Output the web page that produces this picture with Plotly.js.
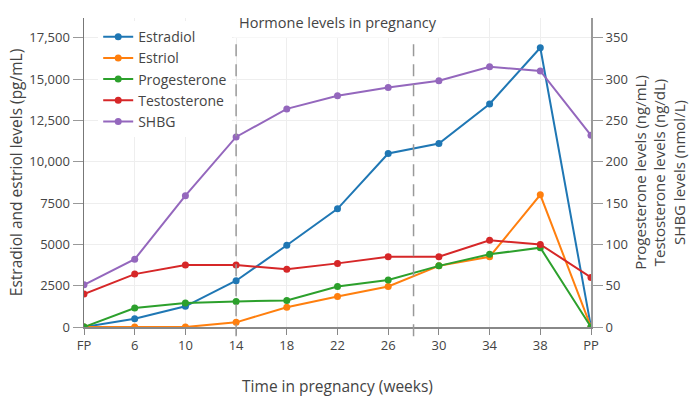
<!DOCTYPE html>
<html>
<head>
<meta charset="utf-8">
<script src="https://cdn.plot.ly/plotly-3.0.1.min.js"></script>
<style>html,body{margin:0;padding:0;background:#fff;}#chart{width:700px;height:408px;}</style>
</head>
<body>
<div id="chart"></div>
<script>
// Time points (weeks); FP = first point (pre-pregnancy), PP = postpartum
const weeks = [2, 6, 10, 14, 18, 22, 26, 30, 34, 38, 42];
const weekLabels = ['FP', '6', '10', '14', '18', '22', '26', '30', '34', '38', 'PP'];
const trimesterBoundaries = [14, 28];

// Left axis (pg/mL)
const estradiol = [0, 500, 1250, 2800, 4950, 7150, 10500, 11100, 13500, 16900, 0];
const estriol = [0, 0, 0, 280, 1200, 1850, 2450, 3700, 4250, 8000, 0];

// Right axis
const progesterone = [0, 23, 29, 31, 32, 49, 57, 74, 88, 96, 0];   // ng/mL
const testosterone = [40, 64, 75, 75, 70, 77, 85, 85, 105, 100, 60]; // ng/dL
const shbg = [51, 82, 159, 230, 264, 280, 290, 298, 315, 310, 232];  // nmol/L

const colors = ['#1f77b4', '#ff7f0e', '#2ca02c', '#d62728', '#9467bd'];

function tr(name, y, color, axis) {
  return {
    x: weeks, y: y, name: name, type: 'scatter', mode: 'lines+markers',
    yaxis: axis, line: {color: color, width: 2}, marker: {color: color, size: 7}
  };
}

const data = [
  tr('Estradiol', estradiol, colors[0], 'y'),
  tr('Estriol', estriol, colors[1], 'y'),
  tr('Progesterone', progesterone, colors[2], 'y2'),
  tr('Testosterone', testosterone, colors[3], 'y2'),
  tr('SHBG', shbg, colors[4], 'y2')
];

const shapes = trimesterBoundaries.map(w => ({
  type: 'line', xref: 'x', yref: 'paper', x0: w, x1: w, y0: -0.03, y1: 1,
  line: {color: '#999', width: 1.5, dash: '12px,8px'}, layer: 'above'
}));

const layout = {
  width: 700, height: 408,
  margin: {l: 84, r: 109, t: 18, b: 81},
  font: {family: '"Open Sans", sans-serif', color: '#444', size: 13},
  paper_bgcolor: '#fff', plot_bgcolor: '#fff',
  showlegend: true,
  legend: {x: 0.028, y: 0.99, xanchor: 'left', yanchor: 'top', bgcolor: '#fff',
           font: {size: 14}},
  xaxis: {
    range: [2, 42], tickmode: 'array', tickvals: weeks, ticktext: weekLabels,
    showgrid: true, gridcolor: '#eee', zeroline: false,
    showline: true, linecolor: '#888', linewidth: 1.5,
    ticks: 'outside', ticklen: 6, tickcolor: '#888',
    title: {text: 'Time in pregnancy (weeks)', font: {size: 15.5}, standoff: 28}
  },
  yaxis: {
    range: [0, 18700], dtick: 2500, tick0: 0, exponentformat: 'none',
    showgrid: true, gridcolor: '#eee', zeroline: false,
    showline: true, linecolor: '#777', linewidth: 1.5,
    ticks: 'outside', ticklen: 10, tickcolor: '#999',
    title: {text: 'Estradiol and estriol levels (pg/mL)', font: {size: 15.5}}
  },
  yaxis2: {
    range: [0, 374], dtick: 50, tick0: 0, overlaying: 'y', side: 'right',
    showgrid: false, zeroline: false,
    showline: true, linecolor: '#999', linewidth: 2,
    ticks: 'outside', ticklen: 10, tickcolor: '#999',
    title: {text: 'Progesterone levels (ng/mL)<br>Testosterone levels (ng/dL)<br>SHBG levels (nmol/L)', font: {size: 15}}
  },
  shapes: shapes,
  annotations: [{
    text: 'Hormone levels in pregnancy', xref: 'paper', yref: 'paper',
    x: 0.5, y: 1, xanchor: 'center', yanchor: 'middle', yshift: -4,
    showarrow: false, bgcolor: '#fff', borderpad: 5, font: {size: 14.5}
  }]
};

Plotly.newPlot('chart', data, layout, {displayModeBar: false, staticPlot: true});
</script>
</body>
</html>
